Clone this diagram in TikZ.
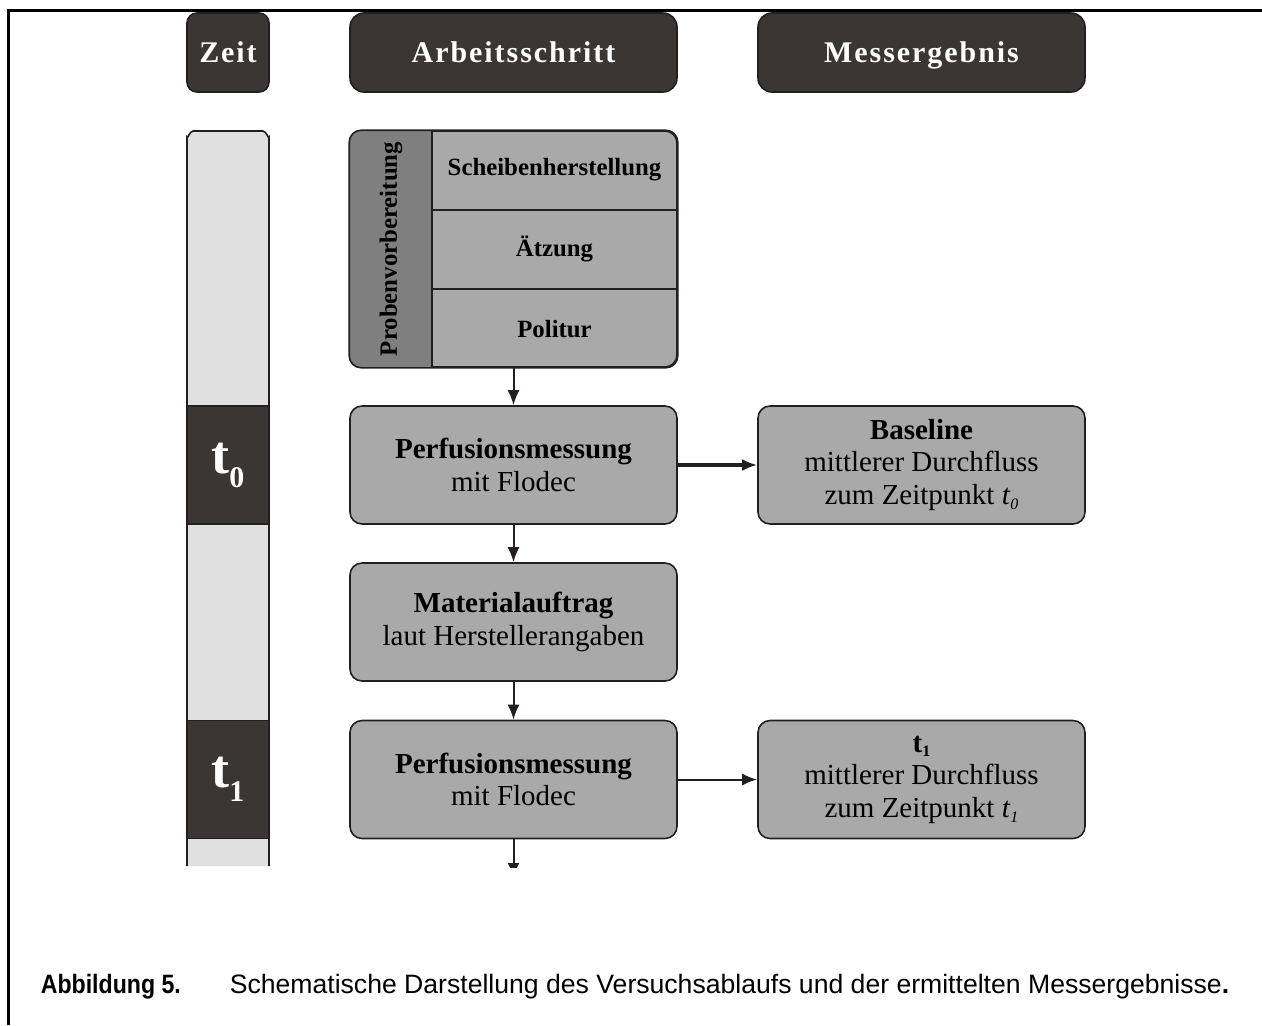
\documentclass[tikz,border=0pt]{standalone}
\usepackage{fontspec}
\setmainfont{Liberation Serif}
\newfontfamily\capfont{Liberation Sans}
\newfontfamily\kopffont[LetterSpace=6.5]{Liberation Serif}
\usetikzlibrary{arrows.meta}

\definecolor{dunkel}{HTML}{3A3634}
\definecolor{mittel}{HTML}{A9A9A9}
\definecolor{spalte}{HTML}{7F7F7F}
\definecolor{hell}{HTML}{E0E0E0}
\definecolor{rand}{HTML}{231F20}

\tikzset{
	kopf/.style={draw=rand, fill=dunkel, text=white, rounded corners=5pt, minimum height=39.5pt, inner sep=0pt, text height=11pt, text depth=1.5pt, font=\kopffont\bfseries\fontsize{15}{17}\selectfont},
	schritt/.style={draw=rand, fill=mittel, rounded corners=6pt, minimum width=163.5pt, minimum height=59pt, inner sep=0pt, align=center, font=\fontsize{14.5}{16.3}\selectfont},
	zeile/.style={font=\bfseries\fontsize{12.4}{14}\selectfont},
	zeitpunkt/.style={draw=rand, fill=dunkel, text=white, minimum width=41pt, minimum height=59pt, inner sep=0pt, font=\bfseries\fontsize{27}{30}\selectfont},
	pfeil/.style={-{Latex[length=7.5pt,width=6pt]}, draw=rand, line width=1pt},
}

\begin{document}
\begin{tikzpicture}[x=0.5pt, y=-0.5pt, line width=0.8pt]
	
	\useasboundingbox (0,0) rectangle (1262,1025);
	
	\draw [line width=1.5pt] (8.5,1025) -- (8.5,10) -- (1262,10);
	
	% Kopfzeile
	\node [kopf, minimum width=41pt] (zeit) at (228,52.5) {Zeit};
	
	\node [kopf, minimum width=163.5pt, rounded corners=7pt] (arbeit) at (513.5,52.5) {Arbeitsschritt};
	
	\node [kopf, minimum width=163.5pt, rounded corners=7pt] (mess) at (921.5,52.5) {Messergebnis};
	
	% Zeitleiste
	\fill [hell] (187,866) -- (187,137) to [out=-90,in=180] (193,131) -- (263,131) to [out=0,in=-90] (269,137) -- (269,866) -- cycle;
	
	\draw [rand] (187,866) -- (187,137) to [out=-90,in=180] (193,131) -- (263,131) to [out=0,in=-90] (269,137) -- (269,866);
	
	\node [zeitpunkt] (z0) at (228,465) {t\raisebox{-7pt}{\fontsize{15}{15}\selectfont 0}};
	
	\node [zeitpunkt] (z1) at (228,779.5) {t\raisebox{-7pt}{\fontsize{15}{15}\selectfont 1}};
	
	% Probenvorbereitung
	\node [schritt, minimum height=118pt] (prob) at (513.5,249) {};
	
	\begin{scope}
		\clip [rounded corners=6pt] (prob.north west) rectangle (prob.south east);
		\fill [spalte] (prob.north west) rectangle (432,367);
	\end{scope}
	
	\draw [rand, rounded corners=6pt] (prob.north west) rectangle (prob.south east);
	
	\draw [rand] (432,131) -- (432,367);
	
	\draw [rand] (432,210) -- (677,210);
	
	\draw [rand] (432,289) -- (677,289);
	
	\node [zeile, rotate=90] (vorb) at (391,249) {Probenvorbereitung};
	
	\node [zeile] (scheibe) at (554.5,170) {Scheibenherstellung};
	
	\node [zeile] (aetz) at (554.5,249) {Ätzung};
	
	\node [zeile] (polit) at (554.5,329) {Politur};
	
	% Ablauf
	\node [schritt] (perf0) at (513.5,465) {\textbf{Perfusionsmessung}\\mit Flodec};
	
	\node [schritt] (mat) at (513.5,622) {\textbf{Materialauftrag}\\laut Herstellerangaben};
	
	\node [schritt] (perf1) at (513.5,779.5) {\textbf{Perfusionsmessung}\\mit Flodec};
	
	\node [schritt] (base) at (921.5,465) {\textbf{Baseline}\\mittlerer Durchfluss\\zum Zeitpunkt \textit{t}\raisebox{-2.5pt}{\fontsize{8}{8}\selectfont\itshape 0}};
	
	\node [schritt] (erg1) at (921.5,779.5) {\textbf{t}\raisebox{-2.5pt}{\fontsize{8}{8}\selectfont\bfseries 1}\\mittlerer Durchfluss\\zum Zeitpunkt \textit{t}\raisebox{-2.5pt}{\fontsize{8}{8}\selectfont\itshape 1}};
	
	\draw [pfeil] (prob) -- (perf0);
	
	\draw [pfeil] (perf0) -- (mat);
	
	\draw [pfeil] (mat) -- (perf1);
	
	\draw [pfeil, line width=1.6pt] (perf0) -- (base);
	
	\draw [pfeil] (perf1) -- (erg1);
	
	\coordinate (weiter) at (513.5,878);
	
	\begin{scope}
		\clip (480,830) rectangle (550,867);
		\draw [pfeil] (perf1) -- (weiter);
	\end{scope}
	
	% Bildunterschrift
	\node [anchor=base west, inner sep=0pt, font=\capfont\bfseries\fontsize{13.3}{15}\selectfont] (abb) at (40,993) {\scalebox{0.87}[1]{Abbildung 5.}};
	
	\node [anchor=base west, inner sep=0pt, font=\capfont\fontsize{13.3}{15}\selectfont] (text) at (229,993) {Schematische Darstellung des Versuchsablaufs und der ermittelten Messergebnisse\textbf{.}};
	
\end{tikzpicture}
\end{document}
